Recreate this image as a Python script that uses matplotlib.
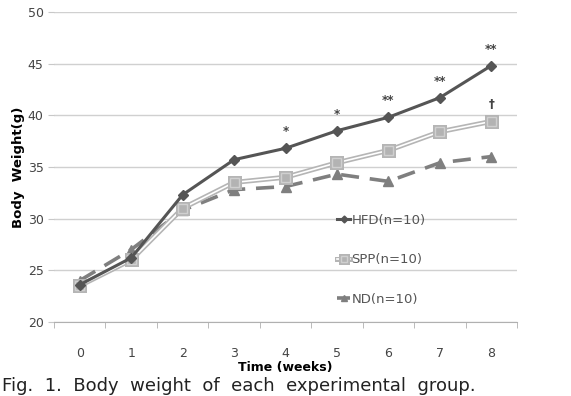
import numpy as np
import matplotlib.pyplot as plt
import matplotlib.patheffects as pe

weeks = [0, 1, 2, 3, 4, 5, 6, 7, 8]
hfd = [23.6, 26.2, 32.3, 35.7, 36.8, 38.5, 39.8, 41.7, 44.8]
spp = [23.5, 26.0, 31.0, 33.5, 34.0, 35.4, 36.6, 38.4, 39.4]
nd = [24.0, 27.0, 30.8, 32.8, 33.1, 34.3, 33.6, 35.4, 36.0]

# significance marks: (week, series it sits above, text)
marks = [(4, 'hfd', '*'), (5, 'hfd', '*'), (6, 'hfd', '**'),
         (7, 'hfd', '**'), (8, 'hfd', '**'), (8, 'spp', '\u2020')]

fig = plt.figure(figsize=(5.71, 3.96), dpi=100)
ax = fig.add_axes([0.0946, 0.187, 0.8108, 0.783])

ax.plot(weeks, hfd, color='#555555', lw=2.2, marker='D', ms=5,
        label='HFD(n=10)', zorder=4)
ax.plot(weeks, spp, color='white', lw=1.2, marker='s', ms=6.5,
        mfc='#b3b3b3', mec='#d0d0d0', label='SPP(n=10)', zorder=3,
        path_effects=[pe.Stroke(linewidth=3.6, foreground='#b5b5b5'), pe.Normal()])
ax.plot(weeks, nd, color='#7f7f7f', lw=2.6, ls=(0, (5, 3)), marker='^', ms=6.5,
        label='ND(n=10)', zorder=2)

series = {'hfd': hfd, 'spp': spp}
for w, s, t in marks:
    ax.text(w, series[s][w] + 1.6, t, ha='center', va='center', fontsize=8.5,
            fontweight='bold', color='#444444')

ax.set_xlim(-0.5, 8.5)
ax.set_ylim(20, 50)
ax.set_yticks(np.arange(20, 51, 5))
ax.set_xticks(weeks)
ax.set_xticks(np.arange(-0.5, 8.6, 1), minor=True)
ax.tick_params(axis='x', which='major', length=0, pad=18, labelsize=9, labelcolor='#444444')
ax.tick_params(axis='x', which='minor', length=4, color='#b0b0b0')
ax.tick_params(axis='y', length=4, color='#c8c8c8', labelsize=9, labelcolor='#444444')
ax.grid(axis='y', color='#d0d0d0', lw=1)
ax.set_axisbelow(True)
for side in ['top', 'right', 'left']:
    ax.spines[side].set_visible(False)
ax.spines['bottom'].set_color('#b0b0b0')

ax.set_xlabel('Time (weeks)', fontsize=9, fontweight='bold', labelpad=1)
ax.set_ylabel('Body  Weight(g)', fontsize=9.5, fontweight='bold', labelpad=2)

leg = ax.legend(loc='upper left', bbox_to_anchor=(0.6, 0.365), frameon=False,
                fontsize=9.5, handlelength=1.0, handletextpad=0.1,
                labelspacing=2.0, borderaxespad=0, markerscale=0.7)
for t in leg.get_texts():
    t.set_color('#555555')

fig.text(0.004, 0.003, 'Fig.  1.  Body  weight  of  each  experimental  group.',
         fontsize=13, color='#222222', ha='left', va='bottom')

fig.savefig('out.png', dpi=100)
